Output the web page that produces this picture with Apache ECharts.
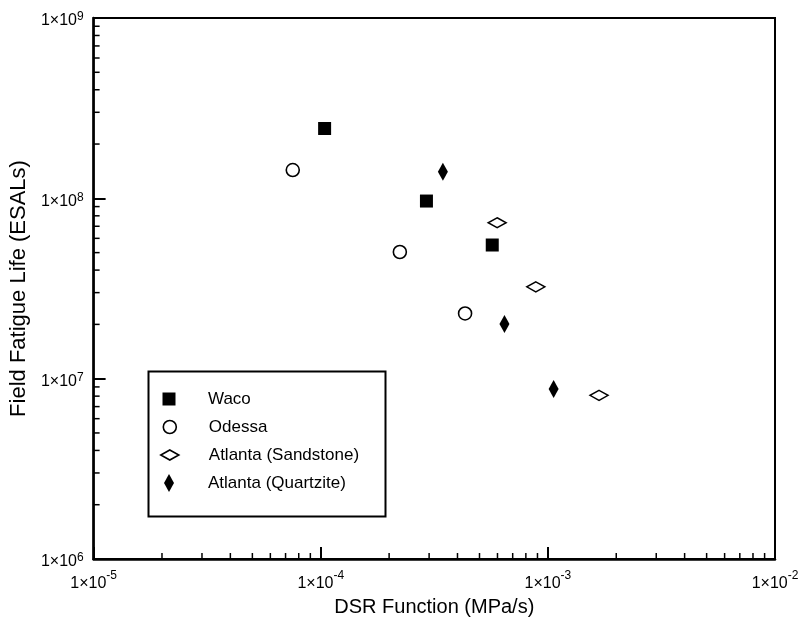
<!DOCTYPE html>
<html><head><meta charset="utf-8">
<script src="https://cdn.jsdelivr.net/npm/echarts@6/dist/echarts.min.js"></script>
<style>html,body{margin:0;padding:0;background:#fff}#c{width:802px;height:624px}</style>
</head><body><div id="c"></div>
<script>
// ---- data ----
const seriesNames = ['Waco', 'Odessa', 'Atlanta (Sandstone)', 'Atlanta (Quartzite)'];
const wacoX = [1.04e-4, 2.92e-4, 5.69e-4];
const wacoY = [2.44e8, 9.66e7, 5.51e7];
const odessaX = [7.53e-5, 2.23e-4, 4.32e-4];
const odessaY = [1.435e8, 5.04e7, 2.30e7];
const sandX = [5.98e-4, 8.85e-4, 1.68e-3];
const sandY = [7.32e7, 3.23e7, 8.08e6];
const quartzX = [3.45e-4, 6.44e-4, 1.06e-3];
const quartzY = [1.405e8, 2.01e7, 8.75e6];
const xRange = [1e-5, 1e-2];
const yRange = [1e6, 1e9];
const xDecades = [-5, -4, -3];
const yDecades = [6, 7, 8];
const minorMantissas = [2, 3, 4, 5, 6, 7, 8, 9];
const xTitle = 'DSR Function (MPa/s)';
const yTitle = 'Field Fatigue Life (ESALs)';

const FONT = "'Liberation Sans', Arial, Helvetica, sans-serif";
const pairs = (xs, ys) => xs.map((x, i) => [x, ys[i]]);
const minorVals = (decs) => decs.flatMap(d => minorMantissas.map(m => m * Math.pow(10, d)));
const xMinor = minorVals(xDecades);
const yMinor = minorVals(yDecades);

const labelFmt = v => '{b|1×10}{s|' + Math.round(Math.log10(v)) + '}';
const richX = {
  b: {fontSize: 16, fontFamily: FONT, color: '#000', lineHeight: 22, verticalAlign: 'bottom'},
  s: {fontSize: 12, fontFamily: FONT, color: '#000', verticalAlign: 'top'}
};
const richY = {
  b: {fontSize: 16, fontFamily: FONT, color: '#000', lineHeight: 22, verticalAlign: 'bottom', padding: [6, 0, 0, 0]},
  s: {fontSize: 12, fontFamily: FONT, color: '#000', verticalAlign: 'top', padding: [4, 0, 0, 0]}
};

const chart = echarts.init(document.getElementById('c'), null, {renderer: 'canvas'});

const symStyle = {
  'Waco': {symbol: 'rect', size: [13, 13], item: {color: '#000', opacity: 1}},
  'Odessa': {symbol: 'circle', size: [13, 13], item: {color: '#fff', borderColor: '#000', borderWidth: 1.6, opacity: 1}},
  'Atlanta (Sandstone)': {symbol: 'diamond', size: [18, 10], item: {color: '#fff', borderColor: '#000', borderWidth: 1.6, opacity: 1}},
  'Atlanta (Quartzite)': {symbol: 'diamond', size: [10, 18], item: {color: '#000', opacity: 1}}
};
const seriesData = {
  'Waco': pairs(wacoX, wacoY),
  'Odessa': pairs(odessaX, odessaY),
  'Atlanta (Sandstone)': pairs(sandX, sandY),
  'Atlanta (Quartzite)': pairs(quartzX, quartzY)
};

const rowCenters = [399, 427, 455, 483];
const iconCx = 169, textX = 208;
const legends = seriesNames.map((n, i) => {
  const s = symStyle[n];
  const w = s.size[0], h = s.size[1];
  return {
    data: [{name: n, icon: s.symbol}],
    orient: 'vertical',
    left: iconCx - w / 2,
    top: rowCenters[i] - 10,
    padding: 0,
    itemWidth: w,
    itemHeight: h,
    symbolKeepAspect: false,
    selectedMode: false,
    itemStyle: s.item,
    textStyle: {fontSize: 17, fontFamily: FONT, color: '#000', lineHeight: 20,
      padding: [0, 0, 0, textX - (iconCx + w / 2) - 5]}
  };
});

const minorTickSeries = (vals, isX) => ({
  type: 'custom', coordinateSystem: 'cartesian2d', silent: true, clip: false, z: 1,
  data: vals.map(v => isX ? [v, yRange[0]] : [xRange[0], v]),
  renderItem: (params, api) => {
    const p = api.coord([api.value(0), api.value(1)]);
    return {type: 'line',
      shape: isX ? {x1: p[0], y1: p[1], x2: p[0], y2: p[1] - 6} : {x1: p[0], y1: p[1], x2: p[0] + 6, y2: p[1]},
      style: {stroke: '#000', lineWidth: 1.5}};
  }
});

const axisCommon = {
  type: 'log', logBase: 10,
  nameLocation: 'middle',
  axisLine: {show: true, lineStyle: {color: '#000', width: 2.5}},
  axisTick: {show: true, inside: true, length: 12, lineStyle: {color: '#000', width: 2}},
  minorTick: {show: false},
  splitLine: {show: false},
};

chart.setOption({
  animation: false,
  backgroundColor: '#fff',
  grid: {left: 92, right: 27, top: 18, bottom: 65, show: true, borderColor: '#000', borderWidth: 2, backgroundColor: 'transparent'},
  legend: legends,
  graphic: [{type: 'rect', left: 146, top: 369, shape: {width: 237, height: 145}, style: {fill: 'none', stroke: '#000', lineWidth: 2}, z: 0}],
  xAxis: Object.assign({}, axisCommon, {
    min: xRange[0], max: xRange[1], name: xTitle, nameGap: 38,
    nameTextStyle: {fontSize: 20, fontFamily: FONT, color: '#000'},
    axisLabel: {margin: 11, formatter: labelFmt, rich: richX, showMinLabel: true, showMaxLabel: true}
  }),
  yAxis: Object.assign({}, axisCommon, {
    min: yRange[0], max: yRange[1], name: yTitle, nameGap: 56,
    nameTextStyle: {fontSize: 22, fontFamily: FONT, color: '#000'},
    axisLabel: {margin: 10, formatter: labelFmt, rich: richY, showMinLabel: true, showMaxLabel: true}
  }),
  series: [
    minorTickSeries(xMinor, true),
    minorTickSeries(yMinor, false)
  ].concat(seriesNames.map(n => ({
    name: n, type: 'scatter', z: 5,
    symbol: symStyle[n].symbol,
    symbolSize: symStyle[n].size,
    symbolKeepAspect: false,
    itemStyle: symStyle[n].item,
    data: seriesData[n]
  })))
});
</script>
</body></html>
